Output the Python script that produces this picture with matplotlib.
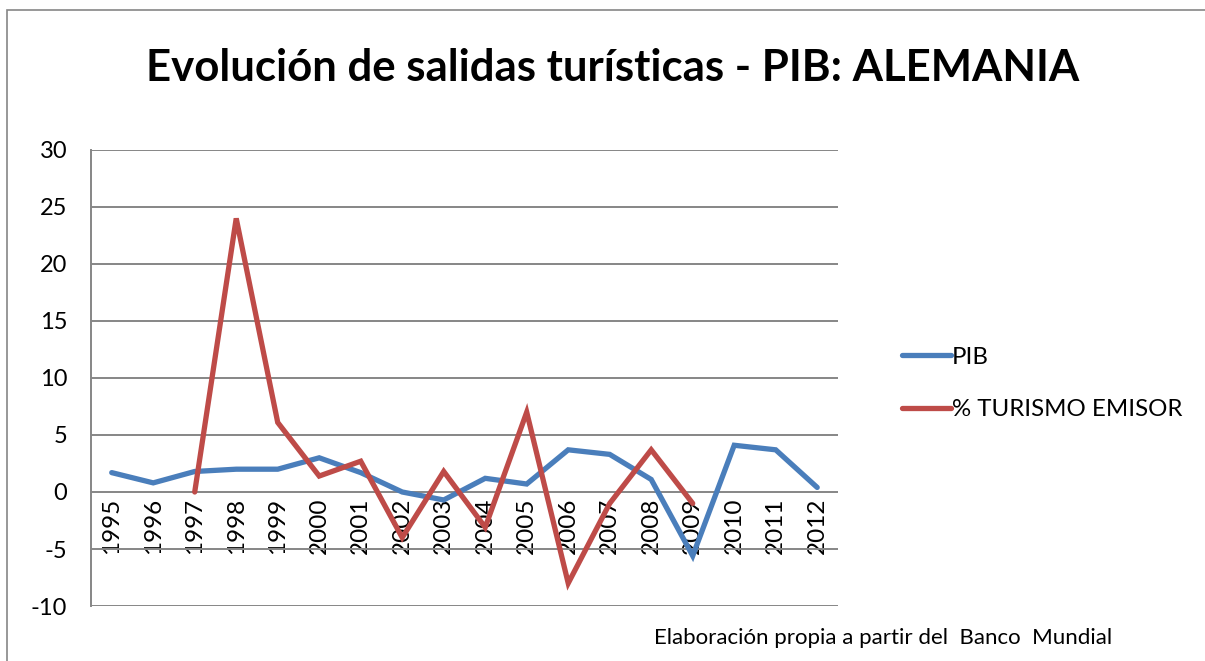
import matplotlib
matplotlib.use("Agg")
import matplotlib.pyplot as plt
from matplotlib.patches import Rectangle

plt.rcParams['font.family'] = ['Lato', 'DejaVu Sans']
plt.rcParams['axes.unicode_minus'] = False

# Datos
years = ['1995', '1996', '1997', '1998', '1999', '2000', '2001', '2002', '2003',
         '2004', '2005', '2006', '2007', '2008', '2009', '2010', '2011', '2012']
pib = [1.7, 0.8, 1.8, 2.0, 2.0, 3.0, 1.7, 0.0, -0.7,
       1.2, 0.7, 3.7, 3.3, 1.1, -5.6, 4.1, 3.7, 0.4]
turismo_years = ['1997', '1998', '1999', '2000', '2001', '2002', '2003',
                 '2004', '2005', '2006', '2007', '2008', '2009']
turismo = [0.0, 24.0, 6.1, 1.4, 2.7, -4.0, 1.8, -3.1, 7.0, -8.0, -1.0, 3.7, -1.0]

azul = '#4A7EBB'
rojo = '#BE4B48'
gris = '#868686'

fig = plt.figure(figsize=(12.05, 6.61), dpi=100)
ax = fig.add_axes([0.0755, 0.0832, 0.6199, 0.6899])

x_pib = [years.index(y) for y in years]
x_tur = [years.index(y) for y in turismo_years]
ax.plot(x_pib, pib, color=azul, lw=3.8, solid_capstyle='round',
        solid_joinstyle='miter', label='PIB')
ax.plot(x_tur, turismo, color=rojo, lw=3.8, solid_capstyle='round',
        solid_joinstyle='miter', label='% TURISMO EMISOR')

# eje x en el cero (antes de poner las etiquetas, si no se pierden)
ax.spines['bottom'].set_position(('data', 0))
ax.spines['bottom'].set_visible(False)
ax.spines['top'].set_visible(False)
ax.spines['right'].set_visible(False)
ax.spines['left'].set_color(gris)
ax.spines['left'].set_linewidth(1.4)

ax.set_xlim(-0.5, len(years) - 0.5)
ax.set_ylim(-10, 30)
ax.set_yticks(range(-10, 31, 5))
ax.yaxis.grid(True, color=gris, lw=1.4)
ax.set_axisbelow(True)

ax.set_xticks(x_pib)
ax.set_xticklabels(years, rotation=90, fontsize=17.5)
ax.tick_params(axis='x', length=0, pad=4)
ax.tick_params(axis='y', length=0, pad=17, labelsize=17)

fig.text(0.508, 0.897, 'Evolución de salidas turísticas - PIB: ALEMANIA',
         ha='center', va='center', fontsize=31.5, fontweight='bold')

fig.legend(loc='center left', bbox_to_anchor=(0.731, 0.42), frameon=False,
           fontsize=17.3, handlelength=2.0, handletextpad=0.05, labelspacing=1.3)

fig.text(0.543, 0.035, 'Elaboración propia a partir del  Banco  Mundial',
         ha='left', va='center', fontsize=16)

# marco del gráfico
fig.patches.append(Rectangle((7 / 1205, -0.5), 2, 1.5 - 10 / 661,
                             transform=fig.transFigure, fill=False,
                             edgecolor=gris, lw=1.2))

fig.savefig('out.png', dpi=100)
